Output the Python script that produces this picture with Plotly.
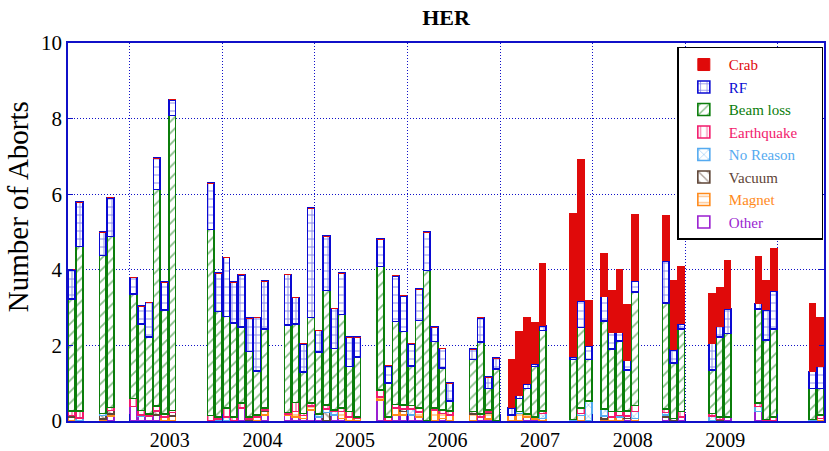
import plotly.graph_objects as go

# month slots (0 = first month shown; a year gridline every 12 slots)
slots = [0, 1, 4, 5, 8, 9, 10, 11, 12, 13, 18, 19, 20, 21, 22, 23, 24, 25,
         28, 29, 30, 31, 32, 33, 34, 35, 36, 37, 40, 41, 42, 43, 44, 45, 46, 47, 48, 49,
         52, 53, 54, 55, 57, 58, 59, 60, 61, 65, 66, 67, 69, 70, 71, 72, 73,
         77, 78, 79, 83, 84, 85, 89, 90, 91, 96, 97]

other = [0, 0, 0, 0.14, 0.38, 0.12, 0.13, 0.16, 0, 0, 0, 0, 0, 0, 0.35, 0, 0, 0.16,
         0.15, 0.11, 0.07, 0.29, 0.1, 0, 0.16, 0.07, 0, 0, 0.56, 0, 0.16, 0.16, 0.16, 0.11, 0, 0, 0.07, 0,
         0, 0.11, 0.05, 0, 0, 0, 0.11, 0.05, 0, 0, 0, 0, 0, 0, 0, 0.07, 0,
         0.11, 0, 0.11, 0, 0, 0.1, 0.25, 0, 0, 0, 0]
magnet = [0.1, 0, 0.05, 0.04, 0, 0, 0, 0, 0.1, 0.14, 0, 0, 0, 0, 0, 0, 0.1, 0.1,
          0.04, 0.14, 0.08, 0.11, 0, 0, 0, 0.18, 0.1, 0.07, 0.07, 0, 0.18, 0.09, 0, 0.13, 0, 0.29, 0.13, 0.16,
          0.19, 0, 0.15, 0, 0.16, 0.2, 0.08, 0.05, 0.07, 0, 0.15, 0, 0.05, 0.11, 0.1, 0, 0.07,
          0, 0, 0, 0, 0, 0, 0, 0, 0, 0, 0.07]
vacuum = [0.05, 0, 0.1, 0.1, 0, 0, 0, 0.1, 0, 0.09, 0, 0, 0, 0, 0, 0.06, 0, 0.03,
          0, 0, 0, 0, 0, 0.22, 0, 0, 0, 0, 0, 0, 0, 0.06, 0, 0, 0, 0, 0, 0,
          0.06, 0, 0.04, 0, 0, 0, 0, 0, 0, 0, 0, 0, 0.09, 0, 0, 0.06, 0,
          0.05, 0.07, 0, 0, 0.04, 0, 0, 0, 0, 0, 0]
noreason = [0, 0.08, 0.05, 0, 0, 0.04, 0, 0, 0, 0, 0, 0.05, 0.1, 0, 0, 0, 0, 0,
            0, 0, 0, 0, 0.08, 0.09, 0.09, 0, 0, 0, 0, 0, 0, 0, 0.15, 0, 0, 0, 0, 0,
            0, 0, 0, 0, 0, 0.05, 0, 0, 0.13, 0.04, 0.05, 0.53, 0.18, 0, 0.05, 0, 0.18,
            0.06, 0, 0, 0.13, 0, 0, 0.13, 0, 0, 0.04, 0]
earthquake = [0.12, 0.18, 0, 0.08, 0.22, 0.12, 0.06, 0.14, 0.09, 0.05, 0.15, 0.06, 0.24, 0.1, 0.12, 0.05, 0.06, 0.06,
              0.03, 0.24, 0.05, 0.07, 0, 0.11, 0.04, 0.1, 0.15, 0.04, 0.19, 0.1, 0.1, 0.11, 0.1, 0.1, 0, 0.05, 0.09, 0.1,
              0, 0.07, 0.05, 0, 0, 0, 0, 0, 0.07, 0, 0.15, 0, 0, 0.14, 0.1, 0.14, 0.16,
              0.1, 0, 0.14, 0.07, 0.06, 0, 0.09, 0.04, 0.1, 0, 0.09]
beamloss = [2.96, 4.36, 4.18, 4.52, 2.76, 2.28, 2.03, 5.72, 2.74, 7.8, 4.92, 2.79, 2.42, 2.49, 2.01, 1.73, 1.17, 2.09,
            2.32, 2.08, 1.09, 2.27, 1.64, 3.03, 1.63, 2.47, 1.19, 1.59, 3.27, 0.9, 2.19, 1.95, 1.05, 2.32, 3.98, 1.76, 1.12, 0.27,
            1.38, 1.91, 0.57, 1.38, 0, 0.35, 0.67, 1.34, 2.12, 1.59, 2.12, 1.1, 2.32, 1.66, 1.87, 1.08, 3.01,
            2.8, 1.46, 2.19, 1.15, 2.13, 2.22, 2.5, 2.1, 2.34, 0.82, 0.7]
rf = [0.77, 1.17, 0.62, 1.02, 0.44, 0.48, 0.92, 0.83, 0.74, 0.42, 1.22, 1.01, 1.57, 1.08, 1.39, 0.88, 1.41, 1.26,
      1.34, 0.7, 0.75, 2.89, 0.57, 1.44, 1.06, 1.09, 0.78, 0.52, 0.72, 0.46, 1.21, 0.94, 0.58, 0.83, 1.02, 0.38, 0.51, 0.47,
      0.27, 0.64, 0.3, 0.28, 0.19, 0.07, 0.12, 0.07, 0.13, 0.07, 0.71, 0.36, 0.66, 0.43, 0.22, 0.25, 0.29,
      1.12, 0.35, 0.13, 0.71, 0.27, 0.65, 0.14, 0.8, 1.0, 0.45, 0.58]
crab = [0] * 42 + [1.29, 1.71, 1.76, 1.09, 1.64, 3.78, 3.73, 1.19, 1.13, 1.1, 1.66, 1.47, 1.74,
                   1.19, 1.83, 1.53, 1.3, 1.03, 1.27, 1.24, 0.78, 1.12, 1.81, 1.3]

year_labels = ["2003", "2004", "2005", "2006", "2007", "2008", "2009"]
year_label_pos = [12.7 + 12 * k for k in range(len(year_labels))]
year_bounds = [7.5 + 12 * k for k in range(8)]

AXIS = "#1010c8"
FONT = "Liberation Serif"
PAD = "&nbsp;" * 5

series = [
    ("Other", other, "#9a1fd0", ""),
    ("Magnet", magnet, "#ff8a1c", "-"),
    ("Vacuum", vacuum, "#5e4436", "\\"),
    ("No Reason", noreason, "#55aaf0", "x"),
    ("Earthquake", earthquake, "#f21a6c", "|"),
    ("Beam loss", beamloss, "#0b7d0b", "/"),
    ("RF", rf, "#0a0ad2", "+"),
]

fig = go.Figure()
for name, vals, col, shp in series:
    fig.add_trace(go.Bar(
        x=slots, y=vals, width=0.88,
        name=f'<span style="color:{col}">{name}</span>{PAD}',
        marker=dict(color="white", line=dict(color=col, width=1.6),
                    pattern=dict(shape=shp, fgcolor=col, bgcolor="white",
                                 size=8, solidity=0.22, fillmode="overlay")),
    ))
fig.add_trace(go.Bar(
    x=slots, y=crab, width=0.88,
    name=f'<span style="color:#e00a0a">Crab</span>{PAD}',
    marker=dict(color="#e00a0a", line=dict(color="#e00a0a", width=1)),
))

fig.update_layout(
    template="none",
    barmode="stack",
    width=829, height=451,
    margin=dict(l=68, r=5, t=43, b=30, autoexpand=False),
    paper_bgcolor="white", plot_bgcolor="white",
    font=dict(family=FONT, color="black"),
    title=dict(text="<b>HER</b>", x=0.5, xanchor="center", xref="paper",
               y=0.962, yanchor="middle",
               font=dict(family=FONT, size=22, color="black")),
    showlegend=True,
    legend=dict(x=0.806, y=0.99, xanchor="left", yanchor="top",
                traceorder="reversed", bgcolor="white",
                bordercolor="black", borderwidth=1.5, itemwidth=40,
                font=dict(family=FONT, size=15)),
    xaxis=dict(range=[-0.5, 97.5], tickvals=year_label_pos, ticktext=year_labels,
               ticks="", showgrid=False, zeroline=False, automargin=False,
               showline=True, linecolor=AXIS, linewidth=1.5, mirror=True,
               tickfont=dict(family=FONT, size=20, color="black"),
               minor=dict(tickvals=year_bounds, ticks="inside", ticklen=7,
                          tickcolor=AXIS, showgrid=True, gridcolor=AXIS,
                          griddash="1px,2px", gridwidth=1)),
    yaxis=dict(range=[0, 10], tickvals=[0, 2, 4, 6, 8, 10], ticks="inside", ticklen=5,
               tickcolor=AXIS, showgrid=True, gridcolor=AXIS, griddash="1px,2px",
               gridwidth=1, zeroline=False, showline=True, linecolor=AXIS, linewidth=1.5,
               mirror="ticks", automargin=False,
               tickfont=dict(family=FONT, size=21, color="black")),
    annotations=[dict(text="Number of Aborts", textangle=-90, xref="paper", yref="paper",
                      x=-0.066, y=0.566, xanchor="center", yanchor="middle", showarrow=False,
                      font=dict(family=FONT, size=29, color="black"))],
)

fig.write_html("out.html", config={"displayModeBar": False},
               post_script="document.body.style.margin='0';document.body.style.padding='0';"
                           "document.body.style.overflow='hidden';")
